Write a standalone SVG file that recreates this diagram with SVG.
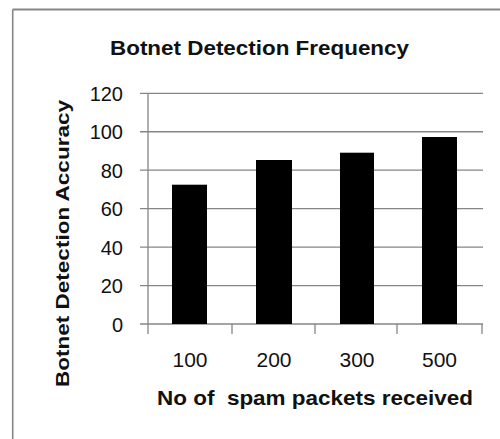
<svg xmlns="http://www.w3.org/2000/svg" width="500" height="439" viewBox="0 0 500 439">
<style>
.grid{stroke:#868686;stroke-width:1.3;fill:none}
.bar{fill:#000}
.tick{font-family:"Liberation Sans",Arial,sans-serif;font-size:20px;fill:#111}
.ttl{font-family:"Liberation Sans",Arial,sans-serif;font-weight:bold;fill:#111}
</style>
<rect x="0" y="0" width="500" height="439" fill="#fff"/>
<g id="frame" class="grid">
<line x1="12.7" y1="9.5" x2="500" y2="9.5" stroke-width="2"/>
<line x1="12.7" y1="9.5" x2="12.7" y2="439" stroke-width="1.6"/>
</g>
<g id="title"><text class="ttl" x="259.5" y="55" font-size="21" text-anchor="middle" textLength="299" lengthAdjust="spacingAndGlyphs">Botnet Detection Frequency</text></g>
<g id="gridlines" class="grid">
<line x1="140" y1="93.3" x2="483" y2="93.3"/>
<line x1="140" y1="131.75" x2="483" y2="131.75"/>
<line x1="140" y1="170.2" x2="483" y2="170.2"/>
<line x1="140" y1="208.65" x2="483" y2="208.65"/>
<line x1="140" y1="247.1" x2="483" y2="247.1"/>
<line x1="140" y1="285.55" x2="483" y2="285.55"/>
<line x1="140" y1="324" x2="483" y2="324"/>
<line x1="148" y1="93.3" x2="148" y2="334"/>
<line x1="232" y1="324" x2="232" y2="334"/>
<line x1="315" y1="324" x2="315" y2="334"/>
<line x1="397" y1="324" x2="397" y2="334"/>
<line x1="482" y1="324" x2="482" y2="334"/>
</g>
<g id="yticks" class="tick" text-anchor="end">
<text x="123" y="100.5">120</text>
<text x="123" y="139">100</text>
<text x="123" y="177.5">80</text>
<text x="123" y="216">60</text>
<text x="123" y="254.5">40</text>
<text x="123" y="293">20</text>
<text x="123" y="331.5">0</text>
</g>
<g id="bars">
<rect id="bar-100" class="bar" x="172" y="184.7" width="35" height="139.3"/>
<rect id="bar-200" class="bar" x="256" y="160" width="36" height="164"/>
<rect id="bar-300" class="bar" x="340" y="152.7" width="34" height="171.3"/>
<rect id="bar-500" class="bar" x="422" y="137" width="35" height="187"/>
</g>
<g id="xticks" class="tick" text-anchor="middle" font-size="21">
<text x="190" y="367" style="font-size:21px">100</text>
<text x="274" y="367" style="font-size:21px">200</text>
<text x="357" y="367" style="font-size:21px">300</text>
<text x="439.5" y="367" style="font-size:21px">500</text>
</g>
<g id="xtitle"><text class="ttl" x="315" y="405" font-size="21" text-anchor="middle" textLength="316" lengthAdjust="spacingAndGlyphs" xml:space="preserve" style="white-space:pre">No of  spam packets received</text></g>
<g id="ytitle"><text class="ttl" transform="translate(69,243.5) rotate(-90)" x="0" y="0" font-size="19" text-anchor="middle" textLength="287" lengthAdjust="spacingAndGlyphs">Botnet Detection Accuracy</text></g>
</svg>
